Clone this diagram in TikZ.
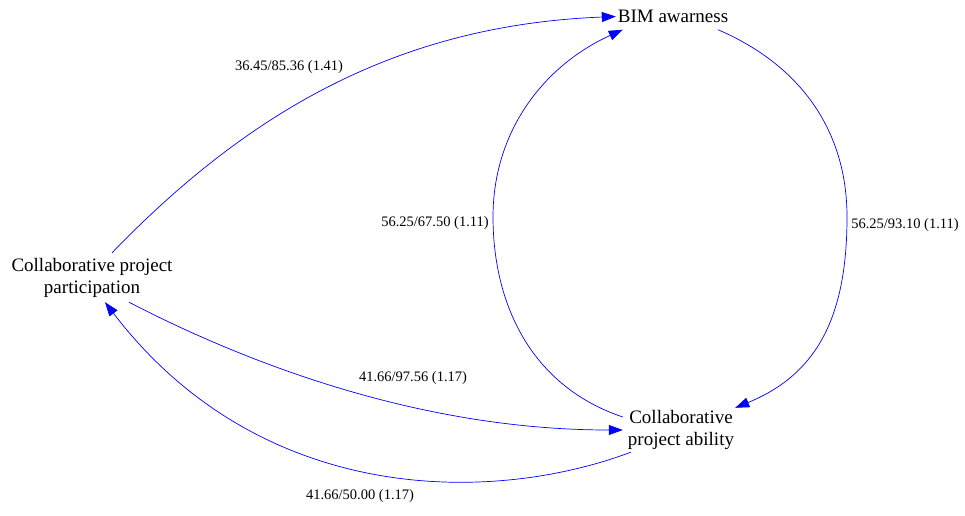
\documentclass[tikz,border=0pt]{standalone}
\usepackage{fontspec}
\setmainfont{Liberation Serif}
\usetikzlibrary{arrows.meta}
\begin{document}
\begin{tikzpicture}[x=1pt,y=-1pt,
  vtx/.style={inner sep=0pt, align=center, font=\fontsize{19}{22}\selectfont},
  elabel/.style={inner sep=0pt, font=\fontsize{14.5}{16}\selectfont},
  edge/.style={draw=blue, line width=0.7pt, -{Triangle[length=14pt,width=10pt]}, fill=none}]
\useasboundingbox (0,0) rectangle (965,515);
\fill[white] (0,0) rectangle (965,515);

\node[vtx, minimum width=114pt, minimum height=26pt] (bim) at (673,16.5) {BIM awarness};
\node[vtx, minimum width=164pt, minimum height=49pt] (part) at (92,277.5) {Collaborative project\\participation};
\node[vtx, minimum width=116pt, minimum height=44pt] (abil) at (681,430) {Collaborative\\project ability};

\draw[edge] ([xshift=20pt]part.north) .. controls (250,110) and (400,25) .. (bim.west);
\draw[edge] ([xshift=45pt]bim.south) .. controls (800,65) and (847,130) .. (847,217)
  .. controls (847,320) and (815,375) .. ([xshift=-4pt]abil.north east);
\draw[edge] ([yshift=13pt]abil.west) .. controls (528,385) and (493,300) .. (493,217)
  .. controls (493,130) and (545,65) .. ([xshift=7pt]bim.south west);
\draw[edge] ([xshift=37pt]part.south) .. controls (260,370) and (430,430) .. (abil.west);
\draw[edge] ([xshift=8pt]abil.south west) .. controls (490,505) and (260,505) .. ([xshift=13pt]part.south);

\node[elabel] (l1) at (289,67) {36.45/85.36 (1.41)};
\node[elabel] (l2) at (905,225) {56.25/93.10 (1.11)};
\node[elabel] (l3) at (435,223) {56.25/67.50 (1.11)};
\node[elabel] (l4) at (413,378) {41.66/97.56 (1.17)};
\node[elabel] (l5) at (360,496) {41.66/50.00 (1.17)};
\end{tikzpicture}
\end{document}
